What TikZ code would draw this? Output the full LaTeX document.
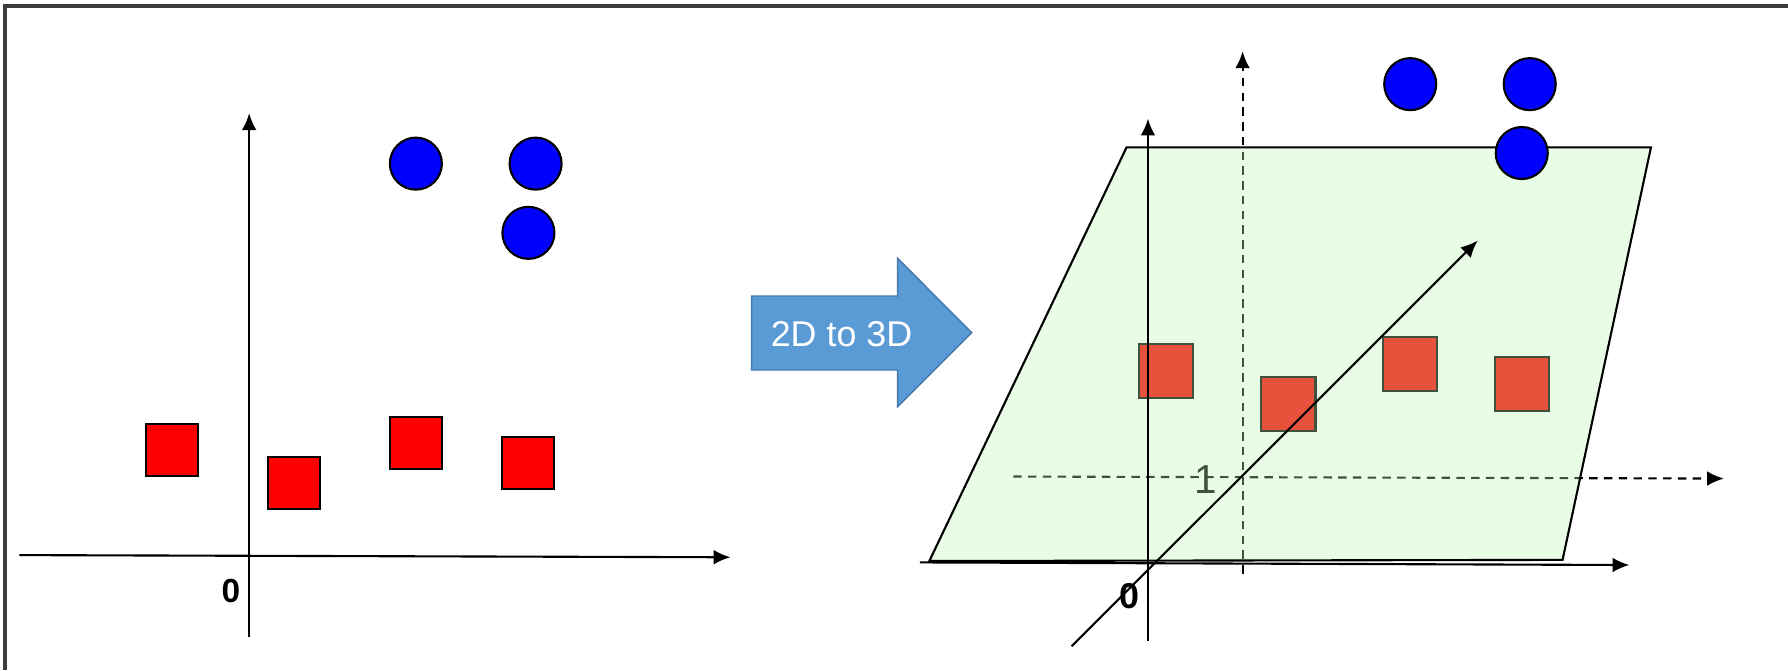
\documentclass[tikz,border=0pt]{standalone}
\usepackage{fontspec}
\setmainfont{Liberation Sans}
\usetikzlibrary{arrows.meta}
\definecolor{bluept}{RGB}{0,0,255}
\definecolor{redpt}{RGB}{255,0,0}
\definecolor{planegreen}{RGB}{186,246,180}
\definecolor{arrowblue}{RGB}{91,155,213}
\definecolor{arrowedge}{RGB}{70,120,170}
\definecolor{framegray}{RGB}{60,60,60}
\begin{document}
\begin{tikzpicture}
[x=0.011403cm, y=-0.011403cm, line width=0.6pt,
>={Latex[length=4.8pt,width=4.2pt]},
blue point/.style={circle,draw,fill=bluept,inner sep=0pt,minimum size=5.2mm},
red point/.style={rectangle,draw,fill=redpt,inner sep=0pt,minimum size=5.2mm},
axis label/.style={font=\bfseries\fontsize{9.5pt}{11pt}\selectfont,inner sep=0pt},
dashed axis/.style={dash pattern=on 2.4pt off 1.8pt}]
\useasboundingbox (0,0) rectangle (1568,588);
\draw[framegray,line width=0.9pt] (1568,5.3) -- (4.4,5.3) -- (4.4,588);

% left: points in 2D
\coordinate (ly0) at (218.5,558.4);
\coordinate (ly1) at (218.5,99.3);
\coordinate (lx0) at (17,486.8);
\coordinate (lx1) at (640.6,488.7);
\draw[->] (ly0) -- (ly1);
\draw[->] (lx0) -- (lx1);
\node[axis label] (lo) at (202.4,518.3) {0};

\node[blue point] (lb1) at (364.7,143.5) {};
\node[blue point] (lb2) at (469.7,143.5) {};
\node[blue point] (lb3) at (463.4,204.2) {};
\node[red point] (lr1) at (150.9,395) {};
\node[red point] (lr2) at (258,423.5) {};
\node[red point] (lr3) at (364.7,388.3) {};
\node[red point] (lr4) at (463.4,406.2) {};

% the block arrow
\draw[fill=arrowblue, draw=arrowedge, line width=0.4pt]
  (659.2,259.6) -- (787.2,259.6) -- (787.2,226.5) -- (852.1,291.7)
  -- (787.2,356.6) -- (787.2,324.5) -- (659.2,324.5) -- cycle;
\node[white, font=\fontsize{10.2pt}{12pt}\selectfont, inner sep=0pt] (conv) at (738,293) {2D to 3D};

% right: points lifted into 3D
\coordinate (dy0) at (1089.7,503);
\coordinate (dy1) at (1089.7,45);
\coordinate (dx0) at (888.6,417.9);
\coordinate (dx1) at (1511.8,419.7);
\draw[->, dashed axis] (dy0) -- (dy1);
\draw[->, dashed axis] (dx0) -- (dx1);
\node[font=\fontsize{11.5pt}{13pt}\selectfont, inner sep=0pt] (one) at (1057,421) {1};

\node[red point, minimum size=5.4mm] (rr1) at (1022.6,325.3) {};
\node[red point, minimum size=5.4mm] (rr2) at (1129.9,354.5) {};
\node[red point, minimum size=5.4mm] (rr3) at (1236.7,319) {};
\node[red point, minimum size=5.4mm] (rr4) at (1334.5,336.6) {};

\filldraw[fill=planegreen, fill opacity=0.333]
  (815,492) -- (1370.3,491) -- (1447.8,129.3) -- (987.9,129.3) -- cycle;

\coordinate (ry0) at (1006.7,562);
\coordinate (ry1) at (1006.7,104);
\coordinate (rx0) at (806.6,493.2);
\coordinate (rx1) at (1428.9,495.5);
\coordinate (rz0) at (939.8,566.7);
\coordinate (rz1) at (1295.8,211);
\draw[->] (ry0) -- (ry1);
\draw[->] (rx0) -- (rx1);
\draw[->] (rz0) -- (rz1);
\node[axis label, font=\bfseries\fontsize{10.2pt}{12pt}\selectfont] (ro) at (990.3,522.8) {0};

\node[blue point] (rb1) at (1236.7,73.8) {};
\node[blue point] (rb2) at (1341.5,73.8) {};
\node[blue point] (rb3) at (1334.5,134.2) {};
\end{tikzpicture}
\end{document}
